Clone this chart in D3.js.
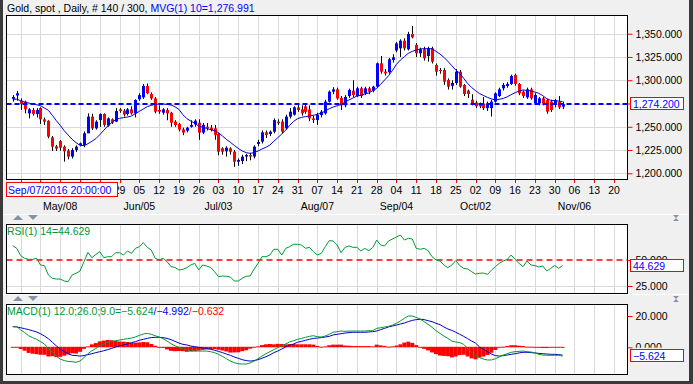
<!DOCTYPE html>
<html><head><meta charset="utf-8">
<script src="https://cdn.jsdelivr.net/npm/d3@7"></script>
<style>
body{margin:0;background:#f0f0f0;}
svg{display:block}
text{font-family:"Liberation Sans",Arial,sans-serif;font-size:10.5px}
</style></head>
<body><svg id="c" width="693" height="384"></svg>
<script>
// ---------- DATA ----------
const open  = [1280,1283.6,1278,1277,1264.4,1268,1263.7,1270.2,1258,1256.5,1238.6,1229,1234.7,1228.6,1224.3,1218,1225,1230.4,1230.4,1243,1260.9,1248.3,1257.2,1263.7,1251.2,1258,1255.5,1268.7,1267.3,1263.7,1268.7,1264.4,1279.5,1281.6,1293.8,1285.2,1280.5,1268,1265.1,1268,1265,1255.5,1253,1247.2,1245.8,1250,1252.6,1254.4,1243.7,1250,1249,1248.3,1242.2,1226.8,1223.6,1226.8,1223.2,1212.5,1213.2,1218,1219.6,1218,1231.5,1234,1244,1242.2,1244.7,1255.5,1255.5,1248.3,1260.9,1263,1270.9,1268.7,1272,1268.7,1259,1257.2,1262.6,1264.4,1277,1287.7,1290.2,1281,1273,1283,1288.8,1283,1291.3,1285.9,1291.3,1288.8,1293.1,1318.2,1309.2,1308.8,1321.7,1332,1334.3,1342.5,1333.2,1349.7,1337.9,1328.9,1333.2,1326,1334.3,1316.4,1311,1311,1300.3,1294,1297,1309.2,1294.9,1288.8,1279,1276,1274,1275,1270,1270,1277,1283.1,1291.3,1293.8,1296,1305.6,1296,1287.7,1281.6,1290.2,1275.2,1275.2,1280.5,1278.7,1277,1273.4,1277,1271.6];
const high  = [1284,1288.4,1280.5,1278,1270,1270,1270,1271,1260,1257,1240,1230.5,1235.8,1230,1226,1227,1230,1233,1245,1264.4,1264,1257,1264.4,1264.4,1260,1259,1270,1270,1269,1270,1272,1279.5,1286,1296,1296.5,1287,1282,1273,1270,1270,1266,1257,1254,1249,1250,1257,1258,1258,1254,1254,1252,1252,1243,1228,1229,1228,1225,1216,1220,1221,1222,1230,1236,1246,1246,1246,1259,1258,1258,1263,1270,1272,1274,1273,1274,1273,1262,1265,1268,1279,1289,1292.5,1292,1283,1284,1291,1300,1293,1293,1293,1293,1294,1319,1326,1312,1324,1328,1341,1344,1345,1352,1358.3,1340,1335,1336,1336,1336,1318,1313,1313,1302,1300,1312,1311,1296,1290,1285,1278,1276,1282,1277,1279,1287,1292,1297,1298,1306,1307,1297,1289,1292,1292,1286,1282,1282,1280,1279,1280,1283,1277];
const low   = [1277,1278,1268,1264.4,1259,1262,1260,1253,1252,1237.6,1224,1224,1224.3,1212.5,1215,1216,1223,1229,1228,1243,1246.5,1247,1250,1250,1250,1253,1255,1265,1261,1262,1263,1260,1278,1280,1285,1279,1264.4,1264,1263,1257,1250,1250,1245,1241,1244,1249,1250,1236,1242,1246,1245,1236,1219.5,1220,1218,1220,1207,1208,1210,1213,1214,1216,1229,1232,1238,1240,1243,1252,1243,1247,1259,1262,1266,1262,1264,1256,1254,1252,1260,1263,1276,1285,1279,1268,1271,1281,1282,1282,1281,1284,1285,1287,1292,1307,1305,1307,1319,1330,1325,1332,1332,1345,1325,1325,1321,1320,1318,1305,1307,1295,1290,1290,1295,1292,1283,1281,1273,1270,1270,1268,1267,1261,1276,1282,1289,1292,1295,1294,1284,1281,1280,1279,1274,1273,1273,1264,1266,1271,1269,1269];
const close = [1282,1286,1274.5,1268.7,1268.7,1263.7,1268,1258,1255.5,1239.4,1228.6,1226.5,1227.5,1223.6,1217.9,1225,1228.6,1232.2,1243,1260.9,1248.3,1255.5,1263.7,1251.9,1259,1254.4,1266.9,1266.9,1263,1268.7,1264.4,1278.8,1284,1293.8,1286,1280.5,1266.2,1266.2,1268.7,1264.4,1254.4,1251.9,1247,1243.7,1249,1252,1256.5,1243.7,1252,1248.3,1246.5,1241,1223.2,1223.2,1227.5,1223.2,1212.5,1214.3,1217.9,1219.6,1218,1228.6,1233.6,1244,1241.2,1244.7,1257.2,1253.7,1244.7,1260.9,1266.2,1270.9,1268,1264.4,1266,1259,1257.2,1262.6,1266.2,1277,1287.7,1290.2,1280.5,1273,1282,1289.5,1284.1,1291.3,1283,1291.3,1287.7,1293.1,1318.2,1309.2,1307.4,1322.5,1324.6,1339.6,1342.5,1334.3,1349.7,1346.1,1328.9,1333.2,1323.5,1334.3,1320,1309.2,1310.3,1298.5,1293.1,1297,1309.2,1293.1,1285.2,1285.2,1275,1272,1272,1270,1275,1277,1285.9,1290.2,1294.9,1296,1304.5,1296,1285.9,1283.1,1290.2,1280.5,1284.1,1280.5,1275.2,1266.2,1268,1278.7,1270.9,1274.2];
const ma10  = [1279.5,1279.5,1278.0,1276.6,1275.5,1274.5,1273.7,1272.7,1270.2,1267.7,1262.3,1256.6,1251.5,1245.8,1241.1,1236.5,1232.9,1230.0,1229.7,1231.8,1234.4,1237.2,1241.5,1246.2,1250.8,1254.4,1257.6,1259.1,1259.8,1260.5,1261.6,1264.1,1266.6,1269.1,1271.6,1273.0,1274.1,1274.5,1274.5,1274.0,1273.4,1271.5,1268.7,1263.0,1258.7,1256.2,1253.7,1250.8,1249.4,1248.3,1246.9,1245.8,1243.7,1240.1,1236.5,1233.3,1230.0,1226.8,1224.0,1222.2,1221.4,1222.2,1224.0,1226.1,1227.9,1230.4,1234.4,1238.3,1242.2,1246.5,1251.5,1255.8,1258.7,1260.1,1260.9,1261.6,1262.3,1263.4,1264.8,1266.9,1269.4,1271.2,1272.5,1274.0,1276.6,1278.8,1280.9,1283.0,1283.8,1285.2,1286.3,1288.8,1291.3,1295.6,1300.2,1304.9,1310.6,1317.1,1321.7,1325.3,1328.9,1331.1,1332.5,1333.6,1333.9,1333.9,1333.9,1331.1,1328.2,1324.6,1320.3,1315.6,1311.0,1307.5,1302.0,1296.5,1292.2,1288.8,1285.7,1283.6,1281.6,1280.0,1278.8,1279.5,1280.5,1282.2,1284.5,1286.6,1288.4,1289.5,1289.1,1288.4,1287.3,1285.9,1283.4,1280.2,1278.4,1278.0,1277.7,1276.991];
const rsi   = [63.8,61.2,54.2,51.6,50.6,50.6,51.6,45.2,44.6,35.6,32.4,31.7,31.7,29.8,29.2,35.6,37.2,39.4,48.4,57.4,52.2,55.4,58.0,52.2,53.2,53.2,57.0,57.0,54.8,58.7,56.4,61.2,62.8,66.7,62.2,59.6,51.6,50.0,51.6,48.4,43.6,42.9,40.4,41.0,42.6,45.2,46.8,40.4,45.2,44.2,42.9,38.8,34.0,34.6,34.3,33.7,29.8,29.8,32.4,34.3,34.6,41.3,46.8,53.2,53.2,54.8,60.3,60.3,54.8,61.2,62.8,65.1,65.1,64.4,61.2,62.2,58.0,54.8,56.4,62.8,68.6,68.3,64.4,57.0,62.2,63.5,62.2,62.2,58.7,61.2,59.0,61.9,69.2,64.4,63.5,68.3,70.2,72.1,74.0,69.2,70.8,70.2,61.2,60.3,61.2,59.0,53.2,50.0,49.0,45.2,42.6,45.2,49.4,44.6,42.0,41.3,38.8,36.5,37.2,37.5,36.2,40.1,43.6,46.8,49.0,50.6,54.8,50.6,46.8,43.6,49.0,45.2,44.6,43.3,44.2,39.4,42.0,44.6,42.0,44.629];
const macd  = [13.2,13.2,11.1,9.4,7.4,6.2,5.1,3.6,2.1,-0.7,-2.8,-5.6,-7.5,-8.5,-9.0,-9.2,-9.6,-8.8,-6.6,-4.1,-2.2,-0.7,1.0,2.1,3.2,3.8,4.2,4.7,5.1,5.5,5.9,6.6,7.6,8.5,8.9,8.3,7.4,6.6,5.5,4.0,2.3,1.0,0.0,-0.9,-1.7,-2.2,-2.4,-2.4,-2.4,-2.4,-2.8,-3.4,-4.5,-5.8,-7.3,-8.8,-9.8,-10.5,-10.7,-10.7,-10.0,-8.8,-7.3,-5.6,-4.1,-2.8,-1.5,-0.2,1.0,2.1,3.4,4.2,5.1,5.7,6.4,7.0,7.4,6.8,6.6,7.2,8.3,9.6,10.0,10.4,10.2,10.4,10.4,10.4,10.4,10.4,10.6,10.6,12.1,12.5,13.0,13.4,14.2,15.3,16.8,18.5,20.0,20.0,19.1,18.1,16.4,14.7,12.8,10.6,8.9,7.2,5.7,4.0,3.4,3.0,1.9,-0.7,-3.4,-5.3,-6.6,-7.5,-8.1,-8.1,-7.3,-6.2,-4.9,-4.1,-3.2,-2.8,-2.6,-2.4,-2.8,-3.0,-3.6,-4.5,-4.9,-5.1,-5.1,-5.1,-5.1,-5.624];
const signal= [13.2,13.0,12.5,11.9,11.3,10.6,9.8,8.7,7.2,5.5,3.2,1.0,-1.1,-2.8,-4.1,-5.1,-5.3,-5.6,-5.3,-4.7,-4.1,-3.4,-2.8,-2.2,-1.5,-0.7,0.2,1.0,1.5,2.1,3.0,3.6,4.5,5.1,5.7,6.2,6.4,6.4,6.2,5.7,4.9,3.8,2.7,1.9,1.5,0.8,0.4,0.0,-0.4,-0.7,-1.1,-1.9,-2.6,-3.4,-4.3,-5.1,-6.2,-7.0,-7.9,-8.5,-8.8,-8.5,-7.9,-7.0,-6.0,-4.9,-3.4,-2.4,-1.1,0.2,1.3,2.1,3.2,3.8,4.5,5.1,5.7,5.9,6.2,6.6,7.0,7.9,8.3,8.7,9.1,9.4,9.6,9.6,9.6,9.6,9.8,10.0,10.4,11.3,12.1,13.0,13.6,14.2,14.9,15.5,16.4,17.2,17.7,17.9,17.7,17.0,16.4,15.3,14.5,13.0,11.7,10.8,9.6,8.3,7.0,5.5,4.0,2.7,0.2,-1.3,-2.8,-4.3,-5.3,-5.6,-5.3,-4.9,-4.5,-4.1,-3.6,-3.2,-3.2,-3.4,-3.6,-3.9,-4.1,-4.3,-4.5,-4.5,-4.7,-4.992];
const hist = macd.map((m,i)=>+(m-signal[i]).toFixed(3));
const tickLabels = ["24","01","08","15","22","29","05","12","19","26","03","10","17","24","31","07","14","21","28","04","11","18","25","02","09","16","23","30","06","13","20"];
const monthLabels = ["May/08","Jun/05","Jul/03","Aug/07","Sep/04","Oct/02","Nov/06"];
const monthTickPos = [2,6,10,15,19,23,28];
const priceTicks = [1200,1225,1250,1275,1300,1325,1350];
const lastPrice = 1274.2;
const rsiTicks = [25,50];
const macdTicks = [0,20];
const cursorDate = "Sep/07/2016 20:00:00";

// ---------- LAYOUT ----------
const svg = d3.select("#c");
const W=693,H=384;
svg.append("rect").attr("width",W).attr("height",H).attr("fill","#f0f0f0");
svg.append("rect").attr("x",0).attr("y",0).attr("width",3).attr("height",H).attr("fill","#3a3a3a");
svg.append("rect").attr("x",689).attr("y",0).attr("width",4).attr("height",H).attr("fill","#3a3a3a");
svg.append("rect").attr("x",0).attr("y",381).attr("width",W).attr("height",3).attr("fill","#3a3a3a");

const PL=6.5, PR=627.5;
const tickIdx = tickLabels.map((d,k)=>2+5*k);
const x = d3.scaleLinear().domain([0,152]).range([12.79,614.0]);
const px = v => Math.round(x(v))+0.5;
const f3 = d3.format(".3f");

function panel(top,bottom,id){
  svg.append("rect").attr("x",PL).attr("y",top).attr("width",PR-PL).attr("height",bottom-top).attr("fill","#fff");
  svg.append("clipPath").attr("id",id).append("rect").attr("x",PL).attr("y",top).attr("width",PR-PL).attr("height",bottom-top);
  const g = svg.append("g").attr("clip-path",`url(#${id})`);
  g.selectAll("line.vg").data(tickIdx).join("line").attr("class","vg")
    .attr("x1",d=>px(d)).attr("x2",d=>px(d)).attr("y1",top).attr("y2",bottom)
    .attr("stroke","#d9d9d9").attr("stroke-width",1);
  return g;
}
function frame(top,bottom){
  svg.append("rect").attr("x",PL).attr("y",top).attr("width",PR-PL).attr("height",bottom-top)
    .attr("fill","none").attr("stroke","#000").attr("stroke-width",1);
}
// right axis; `hidden` = tick whose label sits fully behind the value box,
// `partial` = tick whose label is half covered by the value box
function rightAxis(scale,vals,fmt,partial,hidden){
  const ax = d3.axisRight(scale).tickValues(vals).tickSize(5).tickPadding(3).tickFormat(fmt);
  const g = svg.append("g").attr("transform",`translate(${PR},0)`).call(ax);
  g.select(".domain").remove();
  g.selectAll(".tick line").attr("stroke","#ff0000");
  g.selectAll(".tick text").attr("fill","#000").style("font-family",'"Liberation Sans",Arial,sans-serif').style("font-size","10.5px");
  if(hidden!==undefined) g.selectAll(".tick").filter(d=>d===hidden).select("text").remove();
  if(partial!==undefined){
    const top=Math.round(scale(partial));
    const id="ax"+top;
    svg.append("clipPath").attr("id",id).append("rect").attr("x",-10).attr("y",top-10).attr("width",80).attr("height",10);
    g.selectAll(".tick").filter(d=>d===partial).select("text").attr("clip-path",`url(#${id})`)
      .attr("transform",`translate(0,${-top})`).attr("y",top);
  }
  return g;
}
function valueBox(yc,txt){
  svg.append("rect").attr("x",630.5).attr("y",Math.round(yc)-6.5).attr("width",53).attr("height",12)
    .attr("fill","#fff").attr("stroke","#ff0000");
  svg.append("text").attr("x",633).attr("y",Math.round(yc)+4).attr("fill","#0000ff").text(txt);
}

// ---------- MAIN PRICE PANEL ----------
const mTop=15.5, mBot=179.5;
const yP = d3.scaleLinear().domain([1200,1350]).range([173.3,33.7]);
const gm = panel(mTop,mBot,"cm");
gm.selectAll("line.hg").data(priceTicks).join("line").attr("class","hg")
  .attr("x1",PL).attr("x2",PR).attr("y1",d=>Math.round(yP(d))+0.5).attr("y2",d=>Math.round(yP(d))+0.5)
  .attr("stroke","#d9d9d9");
const idx = d3.range(close.length);
gm.selectAll("line.wick").data(idx).join("line").attr("class","wick")
  .attr("x1",i=>px(i)).attr("x2",i=>px(i))
  .attr("y1",i=>yP(high[i])).attr("y2",i=>yP(low[i]))
  .attr("stroke","#000").attr("stroke-width",1);
gm.selectAll("rect.body").data(idx).join("rect").attr("class","body")
  .attr("x",i=>Math.round(x(i))-1).attr("width",3)
  .attr("y",i=>yP(Math.max(open[i],close[i])))
  .attr("height",i=>Math.max(1,Math.abs(yP(open[i])-yP(close[i]))))
  .attr("fill",i=>close[i]>=open[i]?"#0000ff":"#ff0000");
gm.append("path").datum(idx)
  .attr("d",d3.line().x(i=>x(i)).y(i=>yP(ma10[i])))
  .attr("fill","none").attr("stroke","#0000cc").attr("stroke-width",1);
gm.append("line").attr("x1",PL).attr("x2",PR).attr("y1",Math.round(yP(lastPrice))).attr("y2",Math.round(yP(lastPrice)))
  .attr("stroke","#0000ff").attr("stroke-width",2).attr("stroke-dasharray","5,3");
frame(mTop,mBot);
rightAxis(yP,priceTicks,d3.format(",.3f"),undefined,1275);
valueBox(yP(lastPrice),d3.format(",.3f")(lastPrice));

const hdr = svg.append("text").attr("x",7).attr("y",11.5);
hdr.append("tspan").attr("fill","#000").text("Gold, spot , Daily, # 140 / 300, ");
hdr.append("tspan").attr("fill","#0000ff").text("MVG(1) 10="+d3.format(",.3f")(ma10[ma10.length-1]));

// x axis
const boxRight = 117.5;
const xa = svg.append("g");
xa.selectAll("line").data(tickIdx).join("line")
  .attr("x1",d=>px(d)).attr("x2",d=>px(d)).attr("y1",180).attr("y2",183).attr("stroke","#ff0000");
svg.append("clipPath").attr("id","xlab").append("rect").attr("x",boxRight+0.5).attr("y",180).attr("width",520).attr("height",20);
const shown = tickIdx.map((d,k)=>({d,k})).filter(o=>x(o.d)+4>boxRight);
xa.append("g").attr("clip-path","url(#xlab)").selectAll("text.day").data(shown).join("text").attr("class","day")
  .attr("x",o=>x(o.d)).attr("y",194).attr("text-anchor","middle").attr("fill","#000")
  .text(o=>tickLabels[o.k]);
xa.selectAll("text.mon").data(monthTickPos).join("text").attr("class","mon")
  .attr("x",k=>x(tickIdx[k])).attr("y",209.5).attr("text-anchor","middle").attr("fill","#000")
  .text((k,j)=>monthLabels[j]);
svg.append("rect").attr("x",6.5).attr("y",182.5).attr("width",111).attr("height",14)
  .attr("fill","#fff").attr("stroke","#ff0000");
svg.append("text").attr("x",8).attr("y",193.5).attr("fill","#0000ff").text(cursorDate);

// panel icons
function arrows(y){
  svg.append("path").attr("d",`M13,${y+5}L18,${y}L23,${y+5}Z`).attr("fill","#8593a8");
  svg.append("path").attr("d",`M28,${y}L38,${y}L33,${y+5}Z`).attr("fill","#8593a8");
}
function cross(y){
  svg.append("path").attr("d",`M673,${y}L679,${y}L676,${y+3}Z M673,${y+6}L679,${y+6}L676,${y+3}Z`).attr("fill","#8593a8");
}
svg.append("line").attr("x1",3).attr("x2",689).attr("y1",214.5).attr("y2",214.5).attr("stroke","#ffffff");
svg.append("line").attr("x1",3).attr("x2",689).attr("y1",294.5).attr("y2",294.5).attr("stroke","#ffffff");
arrows(215); cross(215);
arrows(296); cross(296);

// ---------- RSI PANEL ----------
const rTop=224.5, rBot=293.5;
const yR = d3.scaleLinear().domain([25,50]).range([286,260]);
const gr = panel(rTop,rBot,"cr");
gr.append("line").attr("x1",PL).attr("x2",PR).attr("y1",Math.round(yR(25))+0.5).attr("y2",Math.round(yR(25))+0.5).attr("stroke","#d9d9d9");
gr.append("line").attr("x1",PL).attr("x2",PR).attr("y1",yR(50)).attr("y2",yR(50))
  .attr("stroke","#ff0000").attr("stroke-width",1.5).attr("stroke-dasharray","6,4");
gr.append("path").datum(idx).attr("d",d3.line().x(i=>x(i)).y(i=>yR(rsi[i])))
  .attr("fill","none").attr("stroke","#009933").attr("stroke-width",1);
frame(rTop,rBot);
rightAxis(yR,rsiTicks,f3,50);
valueBox(yR(rsi[rsi.length-1]),f3(rsi[rsi.length-1]));
svg.append("text").attr("x",7).attr("y",235).attr("fill","#009933").text("RSI(1) 14="+f3(rsi[rsi.length-1]));

// ---------- MACD PANEL ----------
const cTop=304.5, cBot=374.5;
const yM = d3.scaleLinear().domain([0,20]).range([347.3,316]);
const gc = panel(cTop,cBot,"cc");
gc.selectAll("rect.h").data(idx).join("rect").attr("class","h")
  .attr("x",i=>x(i)-2).attr("width",4)
  .attr("y",i=>Math.min(yM(0)-0.5,yM(hist[i])))
  .attr("height",i=>Math.max(1,Math.abs(yM(hist[i])-yM(0))))
  .attr("fill","#ff0000");
gc.append("path").datum(idx).attr("d",d3.line().x(i=>x(i)).y(i=>yM(signal[i])))
  .attr("fill","none").attr("stroke","#0000cc").attr("stroke-width",1);
gc.append("path").datum(idx).attr("d",d3.line().x(i=>x(i)).y(i=>yM(macd[i])))
  .attr("fill","none").attr("stroke","#009933").attr("stroke-width",1);
frame(cTop,cBot);
rightAxis(yM,macdTicks,f3,0);
valueBox(yM(macd[macd.length-1]),f3(macd[macd.length-1]));
const mh = svg.append("text").attr("x",7).attr("y",315);
mh.append("tspan").attr("fill","#009933").text("MACD(1) 12.0;26.0;9.0="+f3(macd[macd.length-1]));
mh.append("tspan").attr("fill","#0000ff").text("/"+f3(signal[signal.length-1]));
mh.append("tspan").attr("fill","#ff0000").text("/"+f3(hist[hist.length-1]));
</script></body></html>
